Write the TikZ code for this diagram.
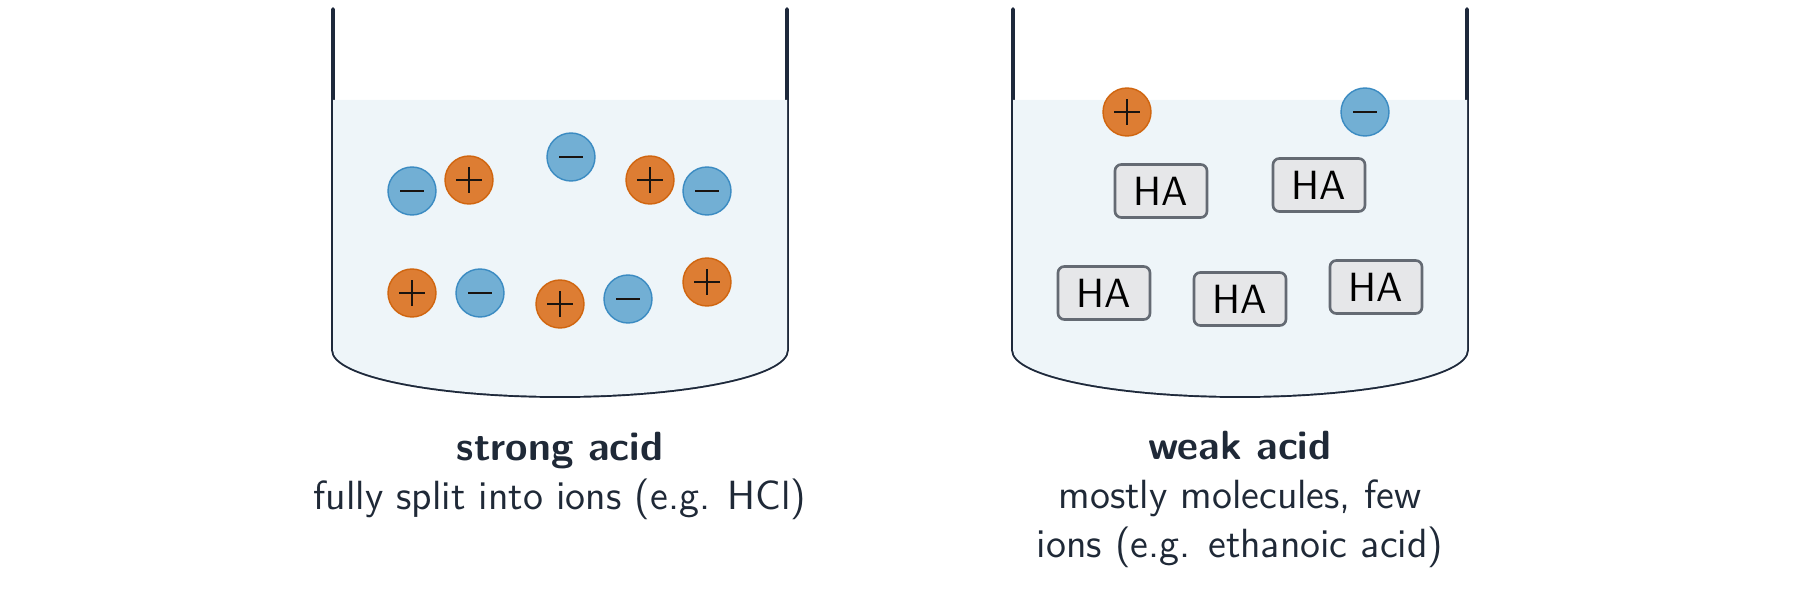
\documentclass[tikz,border=0pt]{standalone}
\usepackage{tikz}
\usetikzlibrary{positioning}

\definecolor{ink}{HTML}{1E293B}
\definecolor{txt}{HTML}{1F2937}
\definecolor{liquid}{HTML}{EEF5F9}
\definecolor{plusfill}{HTML}{DD7D33}
\definecolor{plusedge}{HTML}{D0650F}
\definecolor{minusfill}{HTML}{72AFD4}
\definecolor{minusedge}{HTML}{3B8BC2}
\definecolor{boxfill}{HTML}{E6E7E9}
\definecolor{boxedge}{HTML}{646A73}
\definecolor{sign}{HTML}{1A1410}

\tikzset{
	pion/.style={circle, draw=plusedge, fill=plusfill, line width=0.4pt,
		minimum size=0.48cm, inner sep=0pt,
		path picture={\draw[line width=0.85pt, sign]
			([xshift=-0.13cm]path picture bounding box.center) -- ([xshift=0.13cm]path picture bounding box.center)
			([yshift=-0.13cm]path picture bounding box.center) -- ([yshift=0.13cm]path picture bounding box.center);}},
	nion/.style={circle, draw=minusedge, fill=minusfill, line width=0.4pt,
		minimum size=0.48cm, inner sep=0pt,
		path picture={\draw[line width=0.85pt, sign]
			([xshift=-0.12cm]path picture bounding box.center) -- ([xshift=0.12cm]path picture bounding box.center);}},
	molbox/.style={rectangle, rounded corners=1.8pt, draw=boxedge, fill=boxfill,
		line width=0.75pt, minimum width=0.92cm, minimum height=0.53cm,
		inner sep=0pt, font=\sffamily\fontsize{11.6}{13}\selectfont},
	beaker/.style={draw=ink, line width=1.1pt, line cap=round},
	caption/.style={text=txt, align=center, font=\sffamily\fontsize{11.6}{14}\selectfont}
}

\begin{document}
\begin{tikzpicture}
	\useasboundingbox (0,0) rectangle (18,-5.92);

	% beakers
	\foreach \bx in {3.33, 10.13} {
		\draw[beaker] (\bx,-0.09) -- (\bx,-3.50)
			arc[start angle=180, end angle=360, x radius=2.27, y radius=0.46]
			-- (\bx+4.54,-0.09);
		\fill[liquid] (\bx,-1.00) -- (\bx,-3.50)
			arc[start angle=180, end angle=360, x radius=2.27, y radius=0.46]
			-- (\bx+4.54,-1.00) -- cycle;
	}

	% strong acid
	\draw (4.12,-1.91) node [nion] (s1) {};
	\draw (4.69,-1.80) node [pion] (s2) {};
	\draw (5.71,-1.57) node [nion] (s3) {};
	\draw (6.50,-1.80) node [pion] (s4) {};
	\draw (7.07,-1.91) node [nion] (s5) {};
	\draw (4.12,-2.93) node [pion] (s6) {};
	\draw (4.80,-2.93) node [nion] (s7) {};
	\draw (5.60,-3.04) node [pion] (s8) {};
	\draw (6.28,-2.99) node [nion] (s9) {};
	\draw (7.07,-2.82) node [pion] (s10) {};

	% weak acid
	\draw (11.27,-1.12) node [pion] (w1) {};
	\draw (13.65,-1.12) node [nion] (w2) {};
	\draw (11.61,-1.91) node [molbox] (ha1) {HA};
	\draw (13.19,-1.85) node [molbox] (ha2) {HA};
	\draw (11.04,-2.93) node [molbox] (ha3) {HA};
	\draw (12.40,-2.99) node [molbox] (ha4) {HA};
	\draw (13.76,-2.87) node [molbox] (ha5) {HA};

	% captions
	\draw (5.60,-5.10) node [caption, anchor=base] (strong) {\bfseries strong acid\\fully split into ions (e.g. HCl)};
	\draw (12.40,-5.58) node [caption, anchor=base] (weak) {\bfseries weak acid\\mostly molecules, few\\ions (e.g. ethanoic acid)};
\end{tikzpicture}
\end{document}
